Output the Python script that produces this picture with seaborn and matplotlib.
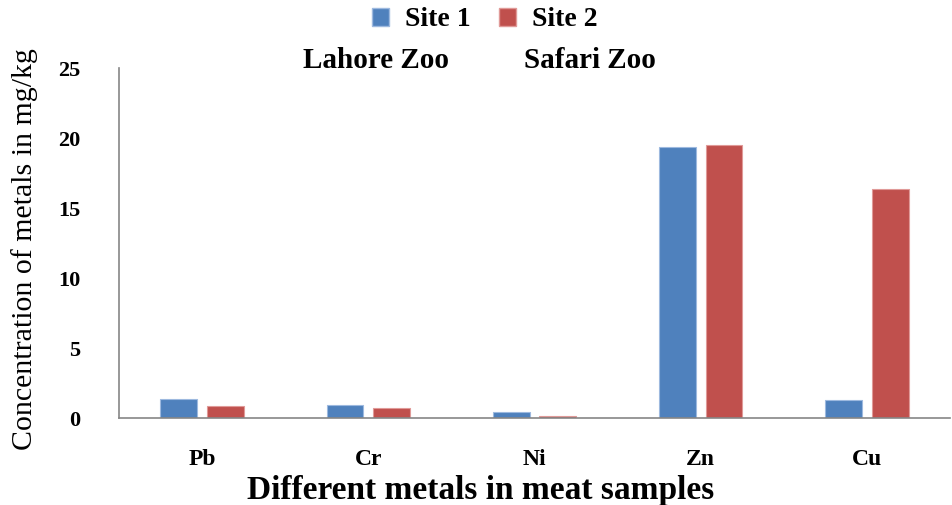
import matplotlib
matplotlib.use("Agg")
import matplotlib.pyplot as plt
import seaborn as sns
import pandas as pd
from matplotlib.patches import Patch

# Heavy-metal concentrations (mg/kg) in meat samples from two zoo sites
metals = ["Pb", "Cr", "Ni", "Zn", "Cu"]
site1 = [1.36, 0.93, 0.43, 19.38, 1.29]   # Lahore Zoo
site2 = [0.86, 0.71, 0.14, 19.50, 16.33]  # Safari Zoo
sites = ["Site 1", "Site 2"]
site_names = ["Lahore Zoo", "Safari Zoo"]
y_ticks = [0, 5, 10, 15, 20, 25]

df = pd.DataFrame({
    "metal": metals * 2,
    "value": site1 + site2,
    "site": [sites[0]] * len(metals) + [sites[1]] * len(metals),
})

sns.set_theme(style="white")
plt.rcParams["font.family"] = ["Liberation Serif", "DejaVu Serif"]
plt.rcParams["text.color"] = "black"

colors = {"Site 1": "#4F81BD", "Site 2": "#C0504D"}
edge_colors = {"Site 1": "#9DB9DF", "Site 2": "#E09A98"}

W, H = 953, 505
fig = plt.figure(figsize=(W / 100, H / 100), dpi=100)
ax = fig.add_axes([119 / W, 1 - 418 / H, (950 - 119) / W, (418 - 68) / H])

sns.barplot(data=df, x="metal", y="value", hue="site", order=metals,
            hue_order=sites, palette=colors, width=0.56, gap=0.21,
            legend=False, ax=ax, saturation=1)

# thin, lighter outline around each bar
for patch, site in zip(ax.patches, [s for s in sites for _ in metals]):
    patch.set_edgecolor(edge_colors[site])
    patch.set_linewidth(0.8)

ax.set_xlim(-0.5, len(metals) - 0.5)
ax.set_ylim(0, 25)
ax.set_yticks(y_ticks)
ax.set_yticklabels([str(t) for t in y_ticks], fontsize=16, fontweight="bold",
                   color="black")
ax.set_xticks(range(len(metals)))
ax.set_xticklabels(metals, fontsize=17, fontweight="bold", color="black")
ax.tick_params(axis="x", length=0, pad=22)
ax.tick_params(axis="y", length=0, pad=28)

for side in ("top", "right"):
    ax.spines[side].set_visible(False)
for side in ("left", "bottom"):
    ax.spines[side].set_color("#868686")
    ax.spines[side].set_linewidth(1.2)

ax.set_xlabel("")
ax.set_ylabel("")
fig.text(481 / W, 1 - 491 / H, "Different metals in meat samples",
         ha="center", va="center", fontsize=24, fontweight="bold")
fig.text(25 / W, 1 - 249 / H, "Concentration of metals in mg/kg",
         ha="center", va="center", rotation=90, fontsize=21.5)

handles = [Patch(facecolor=colors[s], edgecolor=edge_colors[s]) for s in sites]
fig.legend(handles, sites, loc="center", bbox_to_anchor=(485 / W, 1 - 20 / H),
           ncol=2, frameon=False, prop={"weight": "bold", "size": 20},
           handlelength=0.6, handleheight=0.6, columnspacing=1.0,
           handletextpad=0.6)

fig.text(376 / W, 1 - 60 / H, site_names[0], ha="center", va="center",
         fontsize=21, fontweight="bold")
fig.text(590 / W, 1 - 60 / H, site_names[1], ha="center", va="center",
         fontsize=21, fontweight="bold")

fig.savefig("out.png", dpi=100)
